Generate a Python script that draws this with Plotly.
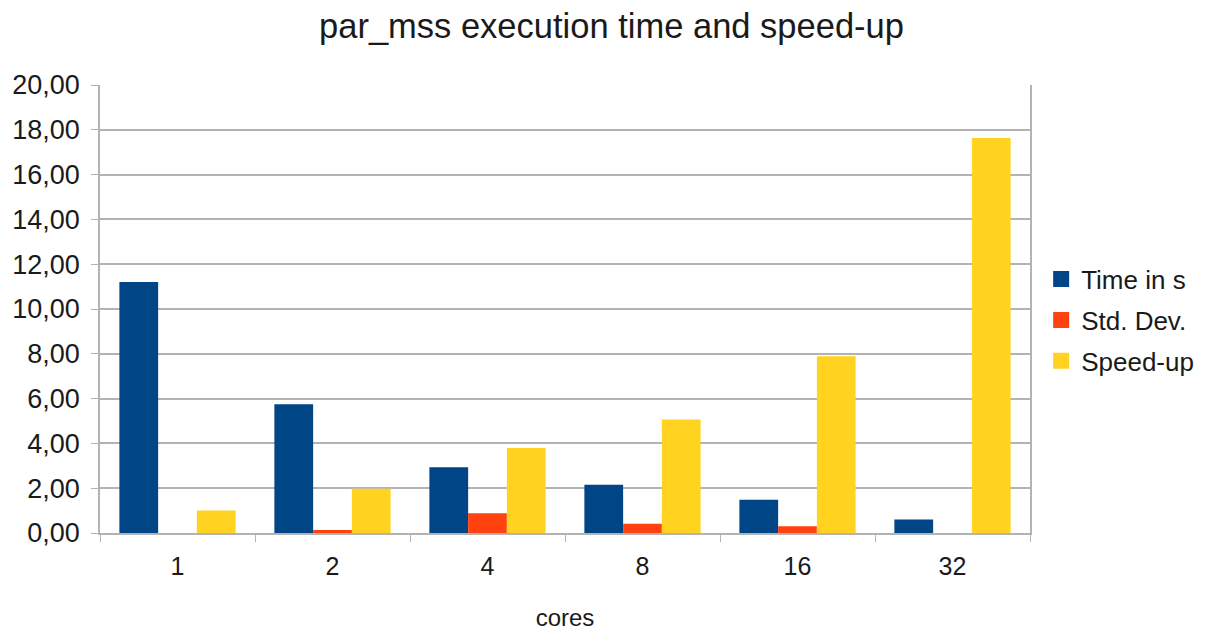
import plotly.graph_objects as go

cores = ["1", "2", "4", "8", "16", "32"]
time_s = [11.20, 5.75, 2.94, 2.15, 1.48, 0.60]
std_dev = [0.0, 0.13, 0.88, 0.41, 0.30, 0.0]
speed_up = [1.00, 1.97, 3.80, 5.07, 7.89, 17.63]

series_names = ["Time in s", "Std. Dev.", "Speed-up"]
series_colors = ["#004586", "#ff420e", "#ffd320"]
series_values = [time_s, std_dev, speed_up]

fig = go.Figure()
for name, color, vals in zip(series_names, series_colors, series_values):
    fig.add_bar(x=cores, y=vals, name=name, marker_color=color,
                marker_line_width=0, legendgroup=name, showlegend=False)
for name, color in zip(series_names, series_colors):
    # legend proxy with larger square symbol
    fig.add_scatter(x=[None], y=[None], mode="markers", name=name,
                    legendgroup=name,
                    marker=dict(symbol="square", size=16, color=color))

fig.update_layout(
    width=1207, height=630,
    separators=",.",
    font=dict(family="Liberation Sans, Arial, sans-serif", size=27, color="#1a1a1a"),
    title=dict(text="par_mss execution time and speed-up", x=0.5, xanchor="center",
               y=0.971, yanchor="middle", font=dict(size=34.5, color="#1a1a1a")),
    barmode="group", bargap=0.25, bargroupgap=0,
    plot_bgcolor="white", paper_bgcolor="white",
    margin=dict(l=92, r=185, t=77, b=105, autoexpand=False),
    legend=dict(x=1.012, y=0.475, xanchor="left", yanchor="middle",
                font=dict(size=26), itemwidth=30, tracegroupgap=4,
                borderwidth=0, bgcolor="rgba(0,0,0,0)"),
    showlegend=True,
)
fig.update_xaxes(
    type="category", tickson="boundaries", ticks="outside", ticklen=7,
    tickcolor="#b3b3b3", showline=True, linecolor="#b3b3b3", linewidth=1.5,
    showgrid=False, ticklabelstandoff=10, automargin=False,
    title=dict(text="cores", font=dict(size=24), standoff=30),
    tickfont=dict(size=25),
)
fig.update_yaxes(
    range=[0, 20], dtick=2, tickformat=".2f",
    showgrid=True, gridcolor="#b3b3b3", gridwidth=1.5,
    showline=True, linecolor="#b3b3b3", linewidth=1.5, mirror=True,
    ticks="outside", ticklen=7, tickcolor="#b3b3b3", ticklabelstandoff=6,
    zeroline=False, tickfont=dict(size=27), automargin=False,
)

fig.write_html("out.html")
